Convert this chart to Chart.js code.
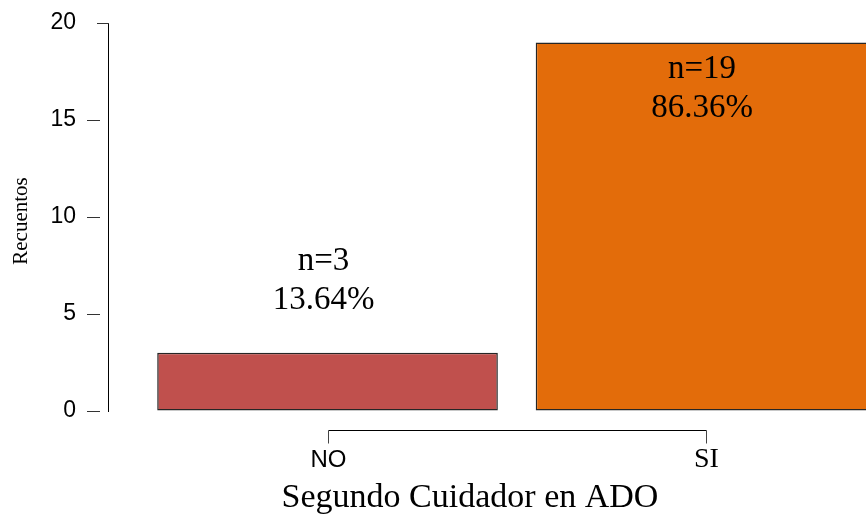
<!DOCTYPE html>
<html>
<head>
<meta charset="utf-8">
<title>Segundo Cuidador en ADO</title>
<script src="https://cdn.jsdelivr.net/npm/chart.js@4.4.0/dist/chart.umd.min.js"></script>
<style>
  html, body { margin: 0; padding: 0; background: #fff; overflow: hidden; }
  #wrap { width: 866px; height: 514px; position: relative; }
</style>
</head>
<body>
<div id="wrap"><canvas id="chart"></canvas></div>
<script>
/*
Data
*/
const categories = ["NO", "SI"];
const counts = [3, 19];
const barColors = ["#C0504D", "#E36C0A"];
const yTicks = [0, 5, 10, 15, 20];

const SERIF = '"Liberation Serif", "Times New Roman", serif';
const SANS = '"Liberation Sans", Arial, sans-serif';
// the two category labels come out in different faces in the original
const catFonts = [`24px ${SANS}`, `28px ${SERIF}`];

const total = counts.reduce((a, b) => a + b, 0);
const percents = counts.map(c => (c / total * 100).toFixed(2) + "%");

/*
R-style axis bits: detached tick marks, offset x axis, titles, bar labels
*/
const rStyle = {
    id: "rStyle",
    afterDatasetsDraw(chart) {
        const ctx = chart.ctx;
        const y = chart.scales.y;
        const meta = chart.getDatasetMeta(0);
        ctx.save();
        ctx.fillStyle = "#000";
        ctx.font = `33px ${SERIF}`;
        ctx.textAlign = "center";
        ctx.textBaseline = "middle";
        meta.data.forEach((bar, i) => {
            const v = counts[i];
            // above the bar if there is room, otherwise inside it
            const top = v + 4.7 > 20 ? v - 1.4 : v + 4.7;
            ctx.fillText("n=" + v, bar.x - 4, y.getPixelForValue(top));
            ctx.fillText(percents[i], bar.x - 4, y.getPixelForValue(top - 2));
        });
        ctx.restore();
    },
    afterDraw(chart) {
        const ctx = chart.ctx;
        const x = chart.scales.x;
        const y = chart.scales.y;
        const area = chart.chartArea;
        ctx.save();
        ctx.strokeStyle = "#333";
        ctx.lineWidth = 1;

        yTicks.forEach(v => {
            const py = Math.round(y.getPixelForValue(v)) + 0.5;
            ctx.beginPath();
            if (v === 20) {
                ctx.moveTo(area.left - 11, py);
                ctx.lineTo(area.left + 1, py);
            } else {
                ctx.moveTo(area.left - 21, py);
                ctx.lineTo(area.left - 8, py);
            }
            ctx.stroke();
        });

        const ax = Math.round(area.bottom + 19) + 0.5;
        const x0 = Math.round(x.getPixelForValue(0)) + 0.5;
        const x1 = Math.round(x.getPixelForValue(categories.length - 1)) + 0.5;
        ctx.strokeStyle = "#000";
        ctx.beginPath();
        ctx.moveTo(x0, ax);
        ctx.lineTo(x1, ax);
        ctx.stroke();

        ctx.fillStyle = "#000";
        ctx.textAlign = "center";
        ctx.textBaseline = "alphabetic";
        categories.forEach((c, i) => {
            const px = Math.round(x.getPixelForValue(i)) + 0.5;
            ctx.strokeStyle = "#444";
            ctx.beginPath();
            ctx.moveTo(px, ax);
            ctx.lineTo(px, ax + 13);
            ctx.stroke();
            ctx.font = catFonts[i];
            ctx.fillText(c, px, area.bottom + 56);
        });

        ctx.font = `34px ${SERIF}`;
        ctx.fillText("Segundo Cuidador en ADO", 470, 507);

        ctx.translate(27, 221);
        ctx.rotate(-Math.PI / 2);
        ctx.font = `21px ${SERIF}`;
        ctx.fillText("Recuentos", 0, 0);
        ctx.restore();
    }
};

const ctx = document.getElementById("chart").getContext("2d");
new Chart(ctx, {
    type: "bar",
    data: {
        datasets: [{
            data: categories.map((c, i) => ({ x: i, y: counts[i] })),
            backgroundColor: barColors,
            borderColor: "#262626",
            borderWidth: 1.5,
            borderSkipped: false,
            categoryPercentage: 1,
            barPercentage: 0.9,
        }]
    },
    options: {
        animation: false,
        responsive: true,
        maintainAspectRatio: false,
        layout: { autoPadding: false, padding: { top: 23, left: 0, right: 0, bottom: 0 } },
        plugins: {
            legend: { display: false },
            tooltip: { enabled: false },
        },
        scales: {
            x: {
                type: "linear",
                offset: false,
                min: -0.58,
                max: 1.4227,
                afterBuildTicks: (scale) => {
                    scale.ticks = categories.map((c, i) => ({ value: i }));
                },
                afterFit: (scale) => { scale.height = 103; },
                grid: { display: false, drawTicks: false },
                border: { display: false },
                ticks: { display: false },
            },
            y: {
                min: 0,
                max: 20,
                afterBuildTicks: (scale) => {
                    scale.ticks = yTicks.map(v => ({ value: v }));
                },
                afterFit: (scale) => { scale.width = 108; },
                grid: { drawOnChartArea: false, drawTicks: true, tickLength: 24, color: "rgba(0,0,0,0)" },
                border: { display: true, color: "#000", width: 1 },
                ticks: {
                    padding: 8,
                    color: "#000",
                    font: { family: SANS, size: 23 },
                },
            },
        },
    },
    plugins: [rStyle],
});
</script>
</body>
</html>
